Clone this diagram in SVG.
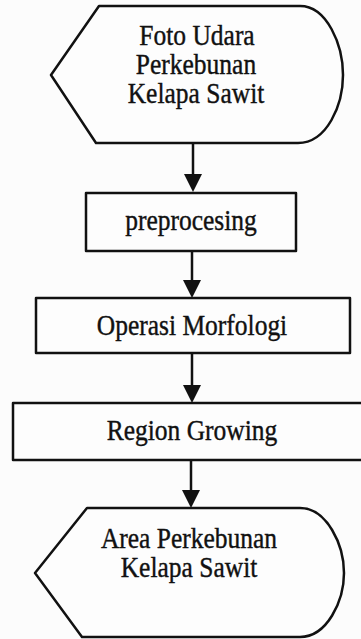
<svg xmlns="http://www.w3.org/2000/svg" width="361" height="639" viewBox="0 0 361 639">
<defs>
<style>
.shape{fill:#fdfdfd;stroke:#111;stroke-width:2.5;stroke-linejoin:round}
.conn{stroke:#111;stroke-width:2.5;fill:none}
.lbl{font-family:"Liberation Serif","Times New Roman",serif;font-size:25.5px;fill:#111;stroke:#111;stroke-width:0.35;text-anchor:middle}
</style>
<marker id="ah" markerUnits="userSpaceOnUse" markerWidth="18" markerHeight="20" refX="14" refY="9" orient="auto">
<path d="M0,0 L18,9 L0,18 Z" fill="#111"/>
</marker>
</defs>
<rect width="361" height="639" fill="#fcfcfc"/>
<g id="connectors">
<line class="conn" x1="193" y1="143" x2="193" y2="188" marker-end="url(#ah)"/>
<line class="conn" x1="192" y1="251" x2="192" y2="294" marker-end="url(#ah)"/>
<line class="conn" x1="192" y1="353" x2="192" y2="399" marker-end="url(#ah)"/>
<line class="conn" x1="191" y1="460" x2="191" y2="504" marker-end="url(#ah)"/>
</g>
<g id="foto-udara">
<path class="shape" d="M99,6 L300,6 C327,6 343,45 343,75 C343,105 327,143 298,143 L96,143 L51,75 Z"/>
<g transform="translate(197,45) scale(1,1.18)"><text class="lbl" x="0" y="0">Foto Udara</text></g>
<g transform="translate(196,74) scale(1,1.18)"><text class="lbl" x="0" y="0">Perkebunan</text></g>
<g transform="translate(196,103) scale(1,1.18)"><text class="lbl" x="0" y="0">Kelapa Sawit</text></g>
</g>
<g id="preprocesing">
<rect class="shape" x="86" y="193" width="210" height="58"/>
<g transform="translate(191,230) scale(1,1.18)"><text class="lbl" x="0" y="0">preprocesing</text></g>
</g>
<g id="operasi-morfologi">
<rect class="shape" x="36" y="298" width="314" height="55"/>
<g transform="translate(192,335) scale(1,1.18)"><text class="lbl" x="0" y="0">Operasi Morfologi</text></g>
</g>
<g id="region-growing">
<rect class="shape" x="13" y="403" width="352" height="57"/>
<g transform="translate(192,440) scale(1,1.18)"><text class="lbl" x="0" y="0">Region Growing</text></g>
</g>
<g id="area-perkebunan">
<path class="shape" d="M87,508 L300,508 C327,508 344,545 344,573 C344,601 327,637 300,637 L82,637 L35,573 Z"/>
<g transform="translate(189,548) scale(1,1.18)"><text class="lbl" x="0" y="0">Area Perkebunan</text></g>
<g transform="translate(189,577) scale(1,1.18)"><text class="lbl" x="0" y="0">Kelapa Sawit</text></g>
</g>
</svg>
